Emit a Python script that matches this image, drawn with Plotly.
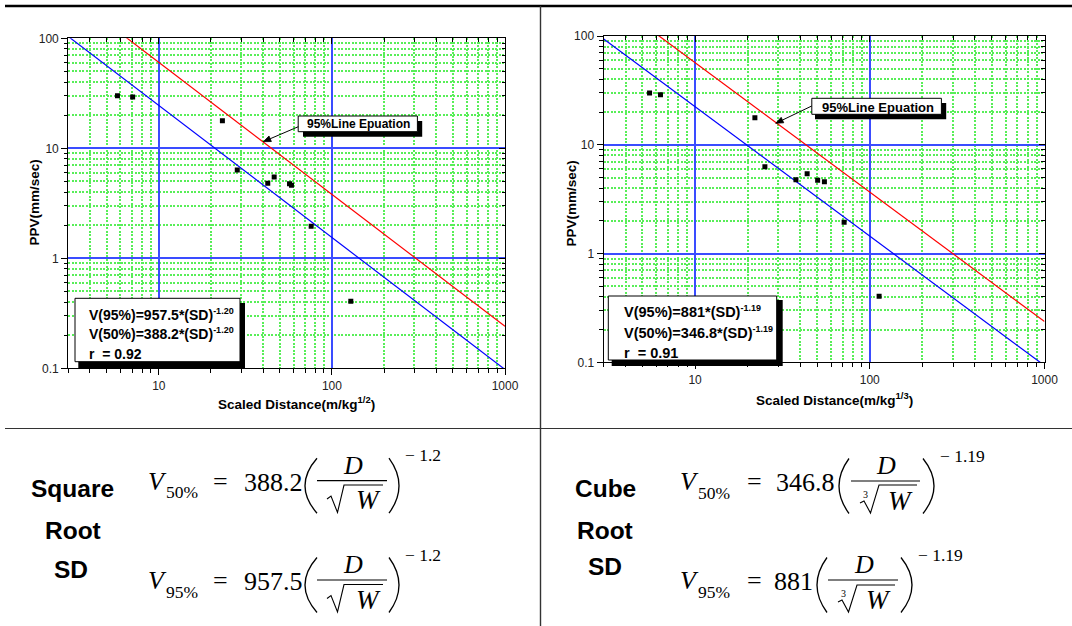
import plotly.graph_objects as go

W, H = 1072, 626

# ---------------- data ----------------
sd_square_root = [5.77, 7.06, 23.3, 28.4, 42.6, 46.4, 56.9, 58.4, 75.9, 128.6]
sd_cube_root = [5.49, 6.34, 22.0, 25.1, 37.8, 43.8, 50.3, 55.0, 71.3, 113.1]
ppv_square = [30.0, 29.2, 17.8, 6.34, 4.82, 5.47, 4.75, 4.62, 1.96, 0.407]
ppv_cube = [29.9, 28.9, 17.7, 6.29, 4.78, 5.42, 4.71, 4.58, 1.94, 0.404]

coef95 = [957.5, 881]
coef50 = [388.2, 346.8]
slope = [-1.20, -1.19]
r_values = [0.92, 0.91]
fit_sd = [3, 1000]

x_tickvals = [10, 100, 1000]
x_ticktext = ["10", "100", "1000"]
y_tickvals = [0.1, 1, 10, 100]
y_ticktext = ["0.1", "1", "10", "100"]
x_minor = [3, 4, 5, 6, 7, 8, 9, 20, 30, 40, 50, 60, 70, 80, 90,
           200, 300, 400, 500, 600, 700, 800, 900]
y_minor = [0.2, 0.3, 0.4, 0.5, 0.6, 0.7, 0.8, 0.9, 2, 3, 4, 5, 6, 7, 8, 9,
           20, 30, 40, 50, 60, 70, 80, 90]

x_titles = ["Scaled Distance(m/kg<sup>1/2</sup>)", "Scaled Distance(m/kg<sup>1/3</sup>)"]
y_title = "PPV(mm/sec)"
row_labels = [["Square", "Root", "SD"], ["Cube", "Root", "SD"]]
callout = "95%Line Epuation"

SANS = "Liberation Sans, Arial, sans-serif"
SERIF = "Liberation Serif, Times New Roman, serif"


def px(x):
    return x / W


def py(y):
    return 1 - y / H


fig = go.Figure()

sd_sets = [sd_square_root, sd_cube_root]
ppv_sets = [ppv_square, ppv_cube]
for i in range(2):
    xa = "x" if i == 0 else "x2"
    ya = "y" if i == 0 else "y2"
    fig.add_trace(go.Scatter(
        x=fit_sd, y=[coef95[i] * s ** slope[i] for s in fit_sd], mode="lines",
        line=dict(color="#ff0000", width=1.2), xaxis=xa, yaxis=ya,
        showlegend=False, hoverinfo="skip"))
    fig.add_trace(go.Scatter(
        x=fit_sd, y=[coef50[i] * s ** slope[i] for s in fit_sd], mode="lines",
        line=dict(color="#0000ff", width=1.2), xaxis=xa, yaxis=ya,
        showlegend=False, hoverinfo="skip"))
    fig.add_trace(go.Scatter(
        x=sd_sets[i], y=ppv_sets[i], mode="markers",
        marker=dict(symbol="square", size=5, color="black"),
        xaxis=xa, yaxis=ya, showlegend=False))

# empty traces so that the mirror (tick-only) axes are drawn
for xa, ya in [("x3", "y3"), ("x4", "y4")]:
    fig.add_trace(go.Scatter(x=[], y=[], xaxis=xa, yaxis=ya, showlegend=False,
                             hoverinfo="skip"))

XR = [0.47712125472, 3]
YR = [-1, 2]


def main_axis(domain, rng, tv, tt, mv, anchor, side):
    return dict(
        type="log", domain=domain, range=rng, anchor=anchor, side=side,
        tickmode="array", tickvals=tv, ticktext=tt,
        ticks="outside", ticklen=6, tickwidth=1, tickcolor="black",
        showline=True, linecolor="black", linewidth=1.3, mirror=True,
        showgrid=True, gridcolor="#3a4cff", gridwidth=1.6, zeroline=False,
        tickfont=dict(family=SANS, size=12, color="#222"),
        minor=dict(tickmode="array", tickvals=mv, ticks="outside", ticklen=3.5,
                   tickwidth=1, tickcolor="black", showgrid=True,
                   gridcolor="#58ee58", griddash="2px,1.5px", gridwidth=1.7),
        fixedrange=True)


def mirror_axis(overlay, rng, tv, mv, anchor, side):
    return dict(
        type="log", overlaying=overlay, range=rng, anchor=anchor, side=side,
        tickmode="array", tickvals=tv, ticks="inside", ticklen=6,
        tickcolor="black", showticklabels=False, showgrid=False,
        showline=False, zeroline=False,
        minor=dict(tickmode="array", tickvals=mv, ticks="inside", ticklen=3.5,
                   tickcolor="black", showgrid=False),
        fixedrange=True)


L = dict(x0=68.3, x1=505.0, y0=38.3, y1=368.3)
R = dict(x0=603.7, x1=1044.5, y0=36.0, y1=362.3)

fig.update_layout(
    template="none",
    width=W, height=H, margin=dict(l=0, r=0, t=0, b=0, autoexpand=False),
    paper_bgcolor="white", plot_bgcolor="white", showlegend=False,
    xaxis=main_axis([px(L["x0"]), px(L["x1"])], XR, x_tickvals, x_ticktext, x_minor, "y", "bottom"),
    yaxis=main_axis([py(L["y1"]), py(L["y0"])], YR, y_tickvals, y_ticktext, y_minor, "x", "left"),
    xaxis2=main_axis([px(R["x0"]), px(R["x1"])], XR, x_tickvals, x_ticktext, x_minor, "y2", "bottom"),
    yaxis2=main_axis([py(R["y1"]), py(R["y0"])], YR, y_tickvals, y_ticktext, y_minor, "x2", "left"),
    xaxis3=mirror_axis("x", XR, x_tickvals, x_minor, "y", "top"),
    yaxis3=mirror_axis("y", YR, y_tickvals, y_minor, "x", "right"),
    xaxis4=mirror_axis("x2", XR, x_tickvals, x_minor, "y2", "top"),
    yaxis4=mirror_axis("y2", YR, y_tickvals, y_minor, "x2", "right"),
)

shapes = []
annos = []


def rect(x0, y0, x1, y1, fill, lw=1, lc="black"):
    shapes.append(dict(type="rect", xref="paper", yref="paper",
                       x0=px(x0), x1=px(x1), y0=py(y1), y1=py(y0),
                       fillcolor=fill, line=dict(color=lc, width=lw), layer="above"))


def seg(x0, y0, x1, y1, w=1, c="black"):
    shapes.append(dict(type="line", xref="paper", yref="paper",
                       x0=px(x0), x1=px(x1), y0=py(y0), y1=py(y1),
                       line=dict(color=c, width=w), layer="above"))


def path(d, w=1.2, fill=None):
    s = dict(type="path", xref="paper", yref="paper", path=d,
             line=dict(color="black", width=w), layer="above")
    if fill:
        s["fillcolor"] = fill
    shapes.append(s)


def txt(x, y, s, size, family=SANS, xanchor="center", yanchor="middle", angle=0, color="black"):
    annos.append(dict(x=px(x), y=py(y), xref="paper", yref="paper", text=s,
                      showarrow=False, xanchor=xanchor, yanchor=yanchor,
                      textangle=angle, font=dict(family=family, size=size, color=color)))


# ---------- frame lines ----------
seg(5, 6, W, 6, w=2.6, c="black")
seg(540.5, 6, 540.5, H, w=1.4, c="#333")
seg(5, 428.5, W, 428.5, w=1.2, c="#333")

# ---------- axis titles ----------
txt(296, 403, "<b>" + x_titles[0] + "</b>", 13.5)
txt(834, 398.5, "<b>" + x_titles[1] + "</b>", 13.5)
txt(33.6, 203, "<b>" + y_title + "</b>", 13.5, angle=-90)
txt(570.5, 204, "<b>" + y_title + "</b>", 13.5, angle=-90)

# ---------- equation boxes ----------
eq_boxes = [
    dict(box=(75, 298.3, 240, 361.7), sh=(78.3, 303, 245, 368.2), tx=86.7,
         ly=(314, 333, 354), size=14, sup=9),
    dict(box=(608.3, 296, 776.7, 360), sh=(611.7, 300, 782.7, 366), tx=621.7,
         ly=(311, 332.5, 352.5), size=14.5, sup=9),
]
for i, b in enumerate(eq_boxes):
    rect(*b["sh"], fill="black", lw=0, lc="black")
    rect(*b["box"], fill="white", lw=1, lc="black")
    sp = f'<span style="font-size:{b["sup"]}px">'
    lines = [
        f"<b>V(95%)={coef95[i]:g}*(SD)<sup>{sp}{slope[i]:.2f}</span></sup></b>",
        f"<b>V(50%)={coef50[i]:g}*(SD)<sup>{sp}{slope[i]:.2f}</span></sup></b>",
        f"<b>r\u00a0 = {r_values[i]:.2f}</b>",
    ]
    for s, yy in zip(lines, b["ly"]):
        txt(b["tx"], yy, s, b["size"], xanchor="left")

# ---------- 95% line callouts ----------
callouts = [
    dict(box=(298.2, 116, 417.4, 131.7), sh=(303, 121, 422.2, 136.7), c=(358.6, 124.2),
         tip=(263.3, 141.7), tail=(298.3, 126.7), size=12),
    dict(box=(811.8, 98.3, 941.4, 114.3), sh=(815, 103, 946.2, 119.3), c=(878, 107),
         tip=(775.7, 123.3), tail=(811.7, 106), size=13),
]
for c in callouts:
    rect(*c["sh"], fill="black", lw=0)
    rect(*c["box"], fill="white", lw=1)
    txt(c["c"][0], c["c"][1], "<b>" + callout + "</b>", c["size"])
    (tx, ty), (sx, sy) = c["tip"], c["tail"]
    dx, dy = sx - tx, sy - ty
    n = (dx * dx + dy * dy) ** 0.5
    ux, uy = dx / n, dy / n
    hl, hw = 7.5, 3.0
    bx, by = tx + ux * hl, ty + uy * hl
    seg(bx, by, sx, sy, w=1)
    path(f"M {px(tx)},{py(ty)} L {px(bx - uy * hw)},{py(by + ux * hw)} "
         f"L {px(bx + uy * hw)},{py(by - ux * hw)} Z", w=0.8, fill="black")

# ---------- row labels ----------
label_pos = [[(72, 488), (73, 530), (70.6, 569)], [(605, 488), (605, 530), (605, 566)]]
for i in range(2):
    for s, (xx, yy) in zip(row_labels[i], label_pos[i]):
        txt(xx, yy, "<b>" + s + "</b>", 24.5)

# ---------- formulas ----------
formulas = [
    dict(yb=480.7, coef=coef50[0], sub="50%", sl=slope[0], xv=157, xs=182, xe=220, xc=273,
         pl=(305, 317), fr=(317, 387), xd=353,
         rad=[(327, 499), (331, 496), (337.5, 512.5), (344, 485), (383, 485)],
         xw=368.5, pr=(389, 399), xsup=423, idx=None),
    dict(yb=580.0, coef=coef95[0], sub="95%", sl=slope[0], xv=157, xs=182, xe=220, xc=273,
         pl=(305, 317), fr=(317, 387), xd=353,
         rad=[(327, 598.5), (331, 595.5), (337.5, 612), (344, 584.5), (383, 584.5)],
         xw=368.5, pr=(389, 399), xsup=423, idx=None),
    dict(yb=481.0, coef=coef50[1], sub="50%", sl=slope[1], xv=689, xs=714, xe=754, xc=805.5,
         pl=(839, 849), fr=(851, 920), xd=886,
         rad=[(860, 503), (864, 501), (870.5, 513), (879, 485), (917, 485)],
         xw=900.5, pr=(923, 934), xsup=962.5, idx=(865, 494)),
    dict(yb=580.0, coef=coef95[1], sub="95%", sl=slope[1], xv=689, xs=714, xe=754, xc=793.5,
         pl=(817, 827), fr=(828, 898), xd=864,
         rad=[(838, 602), (842, 600), (848.5, 612), (857, 585), (895, 585)],
         xw=878.5, pr=(901, 912), xsup=940.5, idx=(843, 593)),
]
FS = 26
for f in formulas:
    yb = f["yb"]
    txt(f["xv"], yb + 0.5, "<i>V</i>", FS, family=SERIF)
    txt(f["xs"], yb + 11.5, f["sub"], 17.5, family=SERIF)
    txt(f["xe"], yb + 0.5, "=", FS, family=SERIF)
    txt(f["xc"], yb + 1.5, f"{f['coef']:g}", FS, family=SERIF)
    # parentheses
    yt, ybt, ym = yb - 22.5, yb + 32.5, yb + 5
    a0, a1 = f["pl"]
    path(f"M {px(a1)},{py(yt)} Q {px(2 * a0 - a1)},{py(ym)} {px(a1)},{py(ybt)}", w=1.3)
    b0, b1 = f["pr"]
    path(f"M {px(b0)},{py(yt)} Q {px(2 * b1 - b0)},{py(ym)} {px(b0)},{py(ybt)}", w=1.3)
    # fraction
    seg(f["fr"][0], yb, f["fr"][1], yb, w=1.2)
    txt(f["xd"], yb - 15.5, "<i>D</i>", FS, family=SERIF)
    pts = f["rad"]
    d = "M " + " L ".join(f"{px(x)},{py(y)}" for x, y in pts)
    path(d, w=1.1)
    txt(f["xw"], yb + 19.5, "<i>W</i>", FS + 1, family=SERIF)
    if f["idx"]:
        txt(f["idx"][0], f["idx"][1], "3", 10, family=SERIF)
    txt(f["xsup"], yb - 25.5, f"\u2212 {abs(f['sl']):g}", 17.5, family=SERIF)

fig.update_layout(shapes=shapes, annotations=annos)
fig.write_html(
    "out.html",
    config={"displayModeBar": False},
    post_script="document.body.style.margin='0';"
                "document.documentElement.style.overflow='hidden';",
)
